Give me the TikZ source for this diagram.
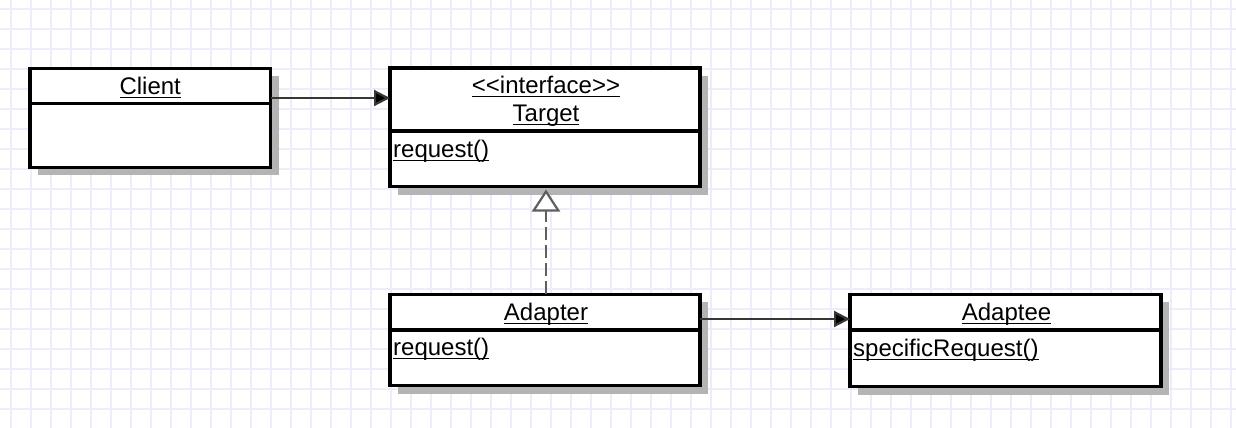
\documentclass[tikz,border=0pt]{standalone}
\usepackage{fontspec}
\setmainfont{Liberation Sans}[Ligatures=TeXOff]
\usetikzlibrary{arrows.meta}
\newcommand\ulx[1]{\setbox0\hbox{#1}\rlap{\rule[-4.4pt]{\wd0}{1.7pt}}\box0}
\definecolor{gridc}{RGB}{236,236,251}
\definecolor{shadowc}{RGB}{180,180,180}
\definecolor{conn}{RGB}{55,55,55}
\definecolor{realc}{RGB}{95,95,95}
\begin{document}
\begin{tikzpicture}[x=1pt,y=-1pt,
  font=\fontsize{24}{28}\selectfont,
  classbox/.style={draw=black, fill=white, line width=3.3pt, inner sep=0pt, outer sep=0pt,
    preaction={fill=shadowc, draw=none, transform canvas={shift={(8pt,-8pt)}}}},
  divider/.style={draw=black, line width=3.3pt},
  lbl/.style={anchor=base, inner sep=0pt},
  member/.style={anchor=base west, inner sep=0pt},
  assoc/.style={draw=conn, line width=2.2pt, -{Triangle[length=16pt,width=16pt,fill=black]}},
  realize/.style={draw=realc, line width=2.6pt, dash pattern=on 13pt off 5pt,
    -{Triangle[open,length=22pt,width=28pt,fill=white,line width=2.2pt]}}]
\useasboundingbox (0,0) rectangle (1236,428);
\fill[white] (0,0) rectangle (1236,428);
\foreach \x in {11,31,...,1235} \draw[gridc,line width=1.4pt] (\x,0) -- (\x,428);
\foreach \y in {9,29,...,428} \draw[gridc,line width=1.4pt] (0,\y) -- (1236,\y);

% Client
\node[classbox, minimum width=240.5pt, minimum height=99pt] (client) at (150.25,117.8) {};
\draw[divider] ([yshift=-35.2pt]client.north west) -- ([yshift=-35.2pt]client.north east);
\node[lbl] (clientname) at (150.25,94) {\ulx{Client}};

% Target
\node[classbox, minimum width=310pt, minimum height=118.5pt] (target) at (545,127.25) {};
\draw[divider] ([yshift=-63pt]target.north west) -- ([yshift=-63pt]target.north east);
\node[lbl] (stereo) at (546,93) {\ulx{<<interface>>}};
\node[lbl] (targetname) at (546,121) {\ulx{Target}};
\node[member] (targetop) at (393,157) {\ulx{request()}};

% Adapter
\node[classbox, minimum width=310pt, minimum height=91.5pt] (adapter) at (545,340) {};
\draw[divider] ([yshift=-35.7pt]adapter.north west) -- ([yshift=-35.7pt]adapter.north east);
\node[lbl] (adaptername) at (546,320) {\ulx{Adapter}};
\node[member] (adapterop) at (393,355) {\ulx{request()}};

% Adaptee
\node[classbox, minimum width=311pt, minimum height=92.4pt] (adaptee) at (1005.5,340.5) {};
\draw[divider] ([yshift=-35.7pt]adaptee.north west) -- ([yshift=-35.7pt]adaptee.north east);
\node[lbl] (adapteename) at (1006.5,320) {\ulx{Adaptee}};
\node[member] (adapteeop) at (853,356) {\ulx{specificRequest()}};

% Connectors
\draw[assoc] ([yshift=19.8pt]client.east) -- ([yshift=19.8pt]client.east -| target.west);
\draw[assoc] ([yshift=21pt]adapter.east) -- ([yshift=21pt]adapter.east -| adaptee.west);
\draw[realize] ([xshift=1pt]adapter.north) -- ([xshift=1pt,yshift=-3pt]target.south);
\end{tikzpicture}
\end{document}
